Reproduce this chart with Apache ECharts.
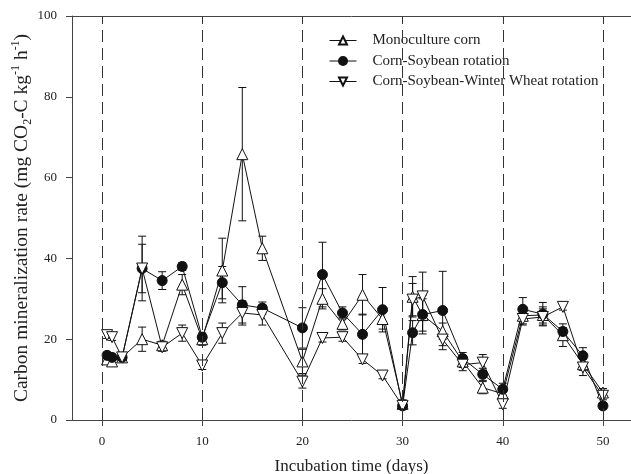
<!DOCTYPE html>
<html>
<head>
<meta charset="utf-8">
<script src="https://cdn.jsdelivr.net/npm/echarts@6/dist/echarts.min.js"></script>
<style>
  html, body { margin: 0; padding: 0; background: #fff; }
  #chart { width: 631px; height: 474px; }
</style>
</head>
<body>
<div id="chart"></div>
<script>
// incubation days sampled
const times = [0.5, 1, 2, 4, 6, 8, 10, 12, 14, 16, 20, 22, 24, 26, 28, 30, 31, 32, 34, 36, 38, 40, 42, 44, 46, 48, 50];

const monoMean = [15, 14.5, 15.5, 20, 18.5, 33.5, 20, 37, 65.8, 42.5, 14.5, 30, 23.8, 31, 25, 4, 30.5, 26, 22, 14.5, 8, 6.5, 25.8, 26, 21, 13.8, 6.8];
const monoErr = [1, 1, 1, 3, 1, 2.5, 1.5, 8, 16.5, 3, 3, 2.5, 1.5, 5, 2.5, 1, 5, 4, 2, 1.5, 1.5, 1, 2, 2, 2.8, 1.5, 1];

const csMean = [16, 15.5, 15.5, 37.5, 34.5, 38, 20.5, 34, 28.5, 27.7, 22.8, 36, 26.5, 21.2, 27.3, 3.5, 21.6, 26.1, 27.1, 15.2, 11.3, 7.6, 27.4, 26.2, 21.9, 15.9, 3.5];
const csErr = [0.8, 0.8, 0.8, 6, 2.2, 1, 1, 4, 4.5, 1.5, 5, 8, 1.5, 5, 5.5, 0.8, 3, 4.8, 9.7, 1.5, 1.5, 1.5, 2.9, 2.9, 1, 2, 0.8];

const cswMean = [21, 20.5, 15.5, 37.5, 18, 21.5, 13.5, 21.5, 26.5, 26, 9.5, 20.3, 20.5, 15, 11, 3.5, 29.8, 30.6, 19.9, 13.7, 14.2, 3.9, 25, 25.5, 28, 13, 6];
const cswErr = [0.8, 0.8, 0.8, 8, 1, 2, 1, 2.5, 3, 2.5, 1.6, 1, 1, 1, 0.8, 0.8, 4, 6, 1.5, 1.5, 2, 1, 1.5, 2, 0.8, 2, 1];

const xTicks = [0, 10, 20, 30, 40, 50];
const dashDays = [0, 10, 20, 30, 40, 50];

const FONT = 'Liberation Serif';
const INK = '#222';
const AXIS = '#444';

function errorBars(name, means, errs) {
  return {
    type: 'custom',
    name: name,
    z: 2,
    silent: true,
    data: times.map((t, i) => [t, means[i] - errs[i], means[i] + errs[i]]),
    encode: { x: 0, y: [1, 2] },
    renderItem(params, api) {
      const lo = api.coord([api.value(0), api.value(1)]);
      const hi = api.coord([api.value(0), api.value(2)]);
      const w = 4;
      const style = { stroke: '#111', lineWidth: 1 };
      return {
        type: 'group',
        children: [
          { type: 'line', shape: { x1: lo[0], y1: lo[1], x2: hi[0], y2: hi[1] }, style },
          { type: 'line', shape: { x1: lo[0] - w, y1: lo[1], x2: lo[0] + w, y2: lo[1] }, style },
          { type: 'line', shape: { x1: hi[0] - w, y1: hi[1], x2: hi[0] + w, y2: hi[1] }, style },
        ],
      };
    },
  };
}

function lineSeries(name, means, symbol, rotate, fill, size) {
  return {
    type: 'line',
    name: name,
    z: 3,
    data: times.map((t, i) => [t, means[i]]),
    symbol: symbol,
    symbolRotate: rotate,
    symbolSize: size,
    showAllSymbol: true,
    lineStyle: { color: '#111', width: 1 },
    itemStyle: { color: fill, borderColor: '#111', borderWidth: 1 },
    emphasis: { disabled: true },
  };
}

const chart = echarts.init(document.getElementById('chart'), null, { renderer: 'canvas' });

const mono = lineSeries('Monoculture corn', monoMean, 'triangle', 0, '#fff', 11);
mono.markLine = {
  silent: true,
  symbol: 'none',
  label: { show: false },
  lineStyle: { color: '#333', width: 1, type: [12, 6] },
  data: dashDays.map(d => ({ xAxis: d })),
};

chart.setOption({
  animation: false,
  backgroundColor: '#fff',
  grid: { left: 72, right: 0, top: 16, bottom: 54, containLabel: false, outerBoundsMode: 'none' },
  legend: {
    orient: 'vertical',
    left: 324,
    top: 28,
    itemWidth: 27,
    itemHeight: 10,
    itemGap: 5.5,
    lineStyle: { width: 1 },
    data: ['Monoculture corn', 'Corn-Soybean rotation', 'Corn-Soybean-Winter Wheat rotation'],
    textStyle: { fontFamily: FONT, fontSize: 15, color: INK, padding: [0, 0, 0, 11] },
  },
  xAxis: [
    {
      type: 'value',
      min: -3,
      max: 52.8,
      name: 'Incubation time (days)',
      nameLocation: 'middle',
      nameGap: 38,
      nameTextStyle: { fontFamily: FONT, fontSize: 17, color: INK },
      axisLine: { show: true, onZero: false, lineStyle: { color: AXIS, width: 1 } },
      axisTick: { show: true, inside: false, length: 6, customValues: xTicks, lineStyle: { color: AXIS } },
      axisLabel: { customValues: xTicks, fontFamily: FONT, fontSize: 13, color: INK, margin: 15 },
      splitLine: { show: false },
    },
    {
      type: 'value',
      position: 'top',
      min: -3,
      max: 52.8,
      axisLine: { show: true, onZero: false, lineStyle: { color: AXIS, width: 1 } },
      axisTick: { show: false },
      axisLabel: { show: false },
      splitLine: { show: false },
    },
  ],
  yAxis: {
    type: 'value',
    min: 0,
    max: 100,
    interval: 20,
    name: 'Carbon mineralization rate (mg CO{sub|2}-C kg{sup|-1} h{sup|-1})',
    nameLocation: 'middle',
    nameGap: 38,
    nameMoveOverlap: false,
    nameTextStyle: {
      fontFamily: FONT,
      fontSize: 19.5,
      color: INK,
      lineHeight: 24,
      rich: {
        sub: { fontFamily: FONT, fontSize: 12, color: INK, lineHeight: 13, verticalAlign: 'bottom' },
        sup: { fontFamily: FONT, fontSize: 12, color: INK, lineHeight: 13, verticalAlign: 'top' },
      },
    },
    axisLine: { show: true, onZero: false, lineStyle: { color: AXIS, width: 1 } },
    axisTick: { show: true, inside: false, length: 6, lineStyle: { color: AXIS } },
    axisLabel: { fontFamily: FONT, fontSize: 13, color: INK, margin: 15 },
    splitLine: { show: false },
  },
  series: [
    errorBars('mono-err', monoMean, monoErr),
    errorBars('cs-err', csMean, csErr),
    errorBars('csw-err', cswMean, cswErr),
    mono,
    lineSeries('Corn-Soybean rotation', csMean, 'circle', 0, '#111', 10),
    lineSeries('Corn-Soybean-Winter Wheat rotation', cswMean, 'triangle', 180, '#fff', 11),
  ],
});
</script>
</body>
</html>
